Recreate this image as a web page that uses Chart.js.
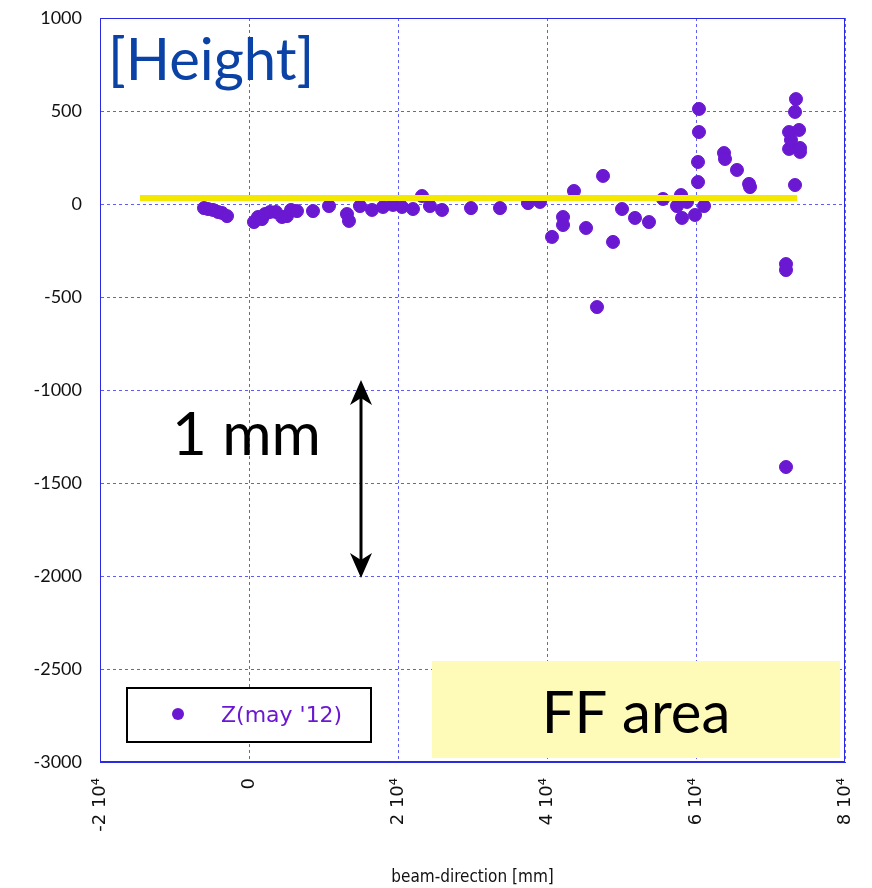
<!DOCTYPE html>
<html>
<head>
<meta charset="utf-8">
<script src="https://cdn.jsdelivr.net/npm/chart.js@4/dist/chart.umd.min.js"></script>
<style>
  body { margin: 0; background: #fff; }
  #wrap { width: 872px; height: 888px; }
</style>
</head>
<body>
<div id="wrap"><canvas id="myChart" width="872" height="888"></canvas></div>
<script>
// survey points, beam direction [mm] vs height [um]
const beamPos = [-6040, -5500, -4830, -4160, -3620, -2950,
  670, 1210, 1740, 2150, 2820, 3620, 4430, 5100, 5640, 6440, 8590, 10740,
  13150, 13420, 14900, 16510, 17990, 19330, 20540, 22010, 23220, 24290, 25910,
  29800, 33690, 37450, 39060, 40670, 42150, 42150, 43620, 45240, 46710, 47520,
  48860, 50070, 51810, 53690, 55570, 57450, 57990, 58120, 58790, 59870,
  60270, 60270, 60400, 60400, 61080, 63760, 63890, 65500, 67120, 67250,
  72080, 72080, 72080, 72490, 72490, 72750, 73290, 73420, 73290, 73830, 73960, 73960];
const height = [-22, -27, -32, -43, -48, -65,
  -97, -70, -81, -54, -43, -43, -70, -65, -32, -38, -38, -11,
  -54, -91, -11, -32, -16, -5, -16, -27, 43, -11, -32,
  -22, -22, 5, 11, -177, -70, -113, 70, -129, -554, 151,
  -204, -27, -75, -97, 27, -11, 48, -75, 11, -59,
  118, 226, 387, 511, -11, 274, 242, 183, 108, 91,
  -323, -355, -1414, 387, 296, 344, 495, 564, 102, 398, 301, 280];

// yellow reference line
const refX = [-14630, 73560];
const refY = [32, 32];

const xTicks = [-20000, 0, 20000, 40000, 60000, 80000];
const seriesName = "Z(may '12)";

let points = beamPos.map((x, i) => ({x: x, y: height[i]}));
let refLine = refX.map((x, i) => ({x: x, y: refY[i]}));

const purple = '#6a18d2';

const extras = {
  id: 'extras',
  afterDraw(chart) {
    const ctx = chart.ctx;
    const a = chart.chartArea;
    ctx.save();

    // plot frame
    ctx.strokeStyle = '#2a2ae0';
    ctx.lineWidth = 1;
    ctx.strokeRect(a.left + 0.5, a.top + 0.5, a.right - a.left - 1, a.bottom - a.top - 1);

    // title
    ctx.fillStyle = '#0b42a5';
    ctx.font = '58px Lato';
    ctx.textBaseline = 'alphabetic';
    ctx.fillText('[Height]', 108, 80);

    // 1 mm scale
    ctx.fillStyle = '#000';
    ctx.font = '60px Lato';
    ctx.fillText('1 mm', 172, 455);
    const ax = 361, top = 380, bot = 578;
    ctx.strokeStyle = '#000';
    ctx.lineWidth = 3;
    ctx.beginPath();
    ctx.moveTo(ax, top + 10);
    ctx.lineTo(ax, bot - 10);
    ctx.stroke();
    ctx.beginPath();
    ctx.moveTo(ax, top);
    ctx.lineTo(ax - 11, top + 25);
    ctx.lineTo(ax, top + 18);
    ctx.lineTo(ax + 11, top + 25);
    ctx.closePath();
    ctx.fill();
    ctx.beginPath();
    ctx.moveTo(ax, bot);
    ctx.lineTo(ax - 11, bot - 25);
    ctx.lineTo(ax, bot - 18);
    ctx.lineTo(ax + 11, bot - 25);
    ctx.closePath();
    ctx.fill();

    // FF area box
    ctx.fillStyle = '#fefab8';
    ctx.fillRect(432, 661, 408, 97);
    ctx.fillStyle = '#000';
    ctx.font = '58px Lato';
    ctx.textAlign = 'center';
    ctx.fillText('FF area', 636, 733);

    // legend
    ctx.textAlign = 'left';
    ctx.fillStyle = '#fff';
    ctx.fillRect(127, 688, 244, 54);
    ctx.strokeStyle = '#000';
    ctx.lineWidth = 2;
    ctx.strokeRect(127, 688, 244, 54);
    ctx.fillStyle = purple;
    ctx.beginPath();
    ctx.arc(178, 714, 6, 0, Math.PI * 2);
    ctx.fill();
    ctx.font = '22px "DejaVu Sans"';
    ctx.textBaseline = 'middle';
    ctx.fillText(seriesName, 221, 716);

    ctx.restore();
  }
};

new Chart('myChart', {
  type: 'scatter',
  data: {
    datasets: [{
      label: seriesName,
      data: points,
      backgroundColor: purple,
      borderColor: purple,
      pointRadius: 6.5,
      pointHoverRadius: 6.5,
      order: 1
    }, {
      type: 'line',
      label: 'ref',
      data: refLine,
      borderColor: '#f4e800',
      borderWidth: 6,
      pointRadius: 0,
      showLine: true,
      order: 0
    }]
  },
  options: {
    responsive: false,
    devicePixelRatio: 1,
    animation: false,
    layout: { padding: { top: 18, right: 27, left: 0, bottom: 0 } },
    plugins: {
      legend: { display: false },
      tooltip: { enabled: false }
    },
    scales: {
      x: {
        type: 'linear',
        min: -20000,
        max: 80000,
        afterBuildTicks: (s) => { s.ticks = xTicks.map(v => ({value: v})); },
        afterFit: (s) => { s.height = 126; s.paddingLeft = 0; s.paddingRight = 0; },
        grid: { color: '#5e5ef2', lineWidth: 1, drawTicks: false },
        border: { display: true, color: '#2a2ae0', dash: [3, 3] },
        ticks: {
          minRotation: 90,
          maxRotation: 90,
          padding: 16,
          color: '#111',
          font: { family: '"DejaVu Sans"', size: 18 },
          callback: (v) => v === 0 ? '0' : (v / 10000) + ' 10\u2074'
        },
        title: {
          display: true,
          text: 'beam-direction [mm]',
          color: '#111',
          font: { family: '"DejaVu Sans Condensed", "Liberation Sans Narrow"', size: 17 },
          padding: { top: 0, bottom: 0 }
        }
      },
      y: {
        min: -3000,
        max: 1000,
        afterFit: (s) => { s.width = 100; s.paddingTop = 0; s.paddingBottom = 0; },
        grid: { color: '#5e5ef2', lineWidth: 1, drawTicks: false },
        border: { display: true, color: '#2a2ae0', dash: [3, 3] },
        ticks: {
          stepSize: 500,
          padding: 18,
          color: '#111',
          font: { family: 'Lato', size: 18 },
          callback: (v) => String(v)
        }
      }
    }
  },
  plugins: [extras]
});
</script>
</body>
</html>
